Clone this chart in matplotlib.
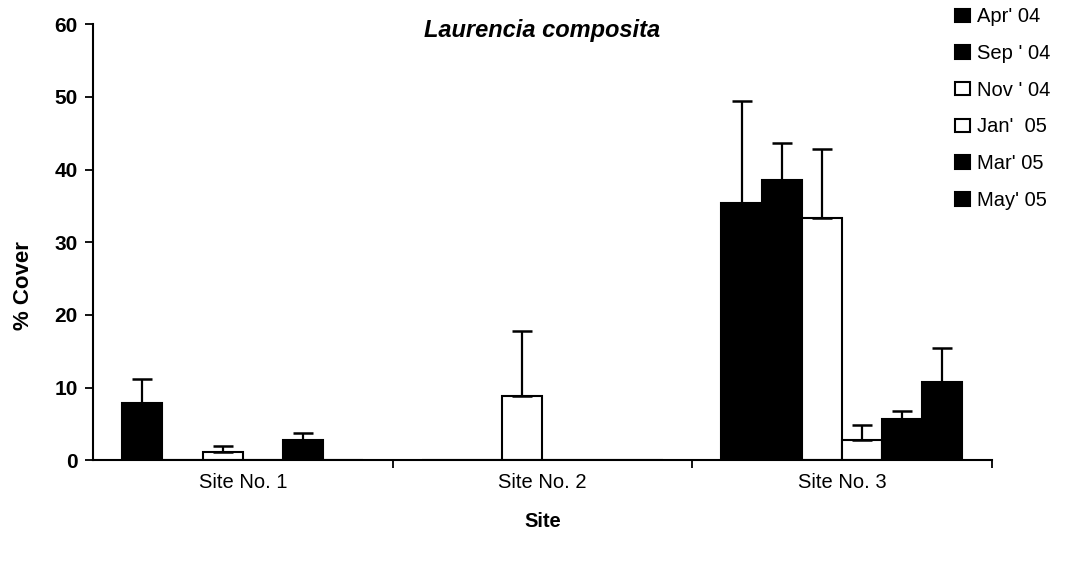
import numpy as np
import matplotlib.pyplot as plt

plt.rcParams['font.family'] = ['Liberation Sans', 'DejaVu Sans']

# data
sites = ['Site No. 1', 'Site No. 2', 'Site No. 3']
months = ["Apr' 04", "Sep ' 04", "Nov ' 04", "Jan'  05", "Mar' 05", "May' 05"]

apr04 = [7.9, 0.0, 35.4]
sep04 = [0.0, 0.0, 38.5]
nov04 = [1.15, 8.9, 33.4]
jan05 = [0.0, 0.0, 2.8]
mar05 = [2.85, 0.0, 5.7]
may05 = [0.0, 0.0, 10.7]

apr04_err = [3.3, 0.0, 14.1]
sep04_err = [0.0, 0.0, 5.1]
nov04_err = [0.8, 8.9, 9.5]
jan05_err = [0.0, 0.0, 2.1]
mar05_err = [0.95, 0.0, 1.1]
may05_err = [0.0, 0.0, 4.7]

values = [apr04, sep04, nov04, jan05, mar05, may05]
errors = [apr04_err, sep04_err, nov04_err, jan05_err, mar05_err, may05_err]
fills = ['black', 'black', 'white', 'white', 'black', 'black']

fig = plt.figure(figsize=(10.75, 5.64), dpi=100)
ax = fig.add_axes([0.0865, 0.184, 0.836, 0.773])

x = np.arange(len(sites))
w = 0.134
handles = []
for i, (vals, errs, fc) in enumerate(zip(values, errors, fills)):
    pos = x + (i - 2.5) * w
    b = ax.bar(pos, vals, w, color=fc, edgecolor='black', linewidth=1.5, zorder=2)
    handles.append(b)
    vals = np.array(vals)
    errs = np.array(errs)
    m = errs > 0
    # only the plus side is drawn, like the original
    ax.errorbar(pos[m], vals[m], yerr=[np.zeros(m.sum()), errs[m]], fmt='none',
                ecolor='black', elinewidth=1.6, capsize=7, capthick=1.8, zorder=3)

ax.set_xlim(-0.5, 2.5)
ax.set_ylim(0, 60)
ax.set_yticks(range(0, 61, 10))
ax.set_xticks(x)
ax.set_xticklabels(sites, fontsize=14.5)
ax.set_xticks([0.5, 1.5, 2.5], minor=True)
ax.tick_params(axis='x', which='major', length=0, pad=9)
ax.tick_params(axis='x', which='minor', length=6, width=1.3, direction='out')
ax.tick_params(axis='y', length=6, width=1.3, direction='out', labelsize=15, pad=5)
for t in ax.get_yticklabels():
    t.set_fontweight('bold')

for s in ['top', 'right']:
    ax.spines[s].set_visible(False)
ax.spines['left'].set_linewidth(1.5)
ax.spines['bottom'].set_linewidth(1.5)

ax.set_ylabel('% Cover', fontsize=16, fontweight='bold')
ax.yaxis.set_label_coords(-0.066, 0.40)
ax.set_xlabel('Site', fontsize=14.5, fontweight='bold')
ax.xaxis.set_label_coords(0.5, -0.118)
ax.text(0.5, 1.012, 'Laurencia composita', transform=ax.transAxes, ha='center', va='top',
        fontsize=17, fontweight='bold', fontstyle='italic')

leg = fig.legend(handles, months, loc='upper left', bbox_to_anchor=(0.888, 0.987),
                 frameon=False, fontsize=14.5, handlelength=0.75, handleheight=0.65,
                 handletextpad=0.35, labelspacing=0.88, borderpad=0, borderaxespad=0)

fig.savefig('out.png', dpi=100)
